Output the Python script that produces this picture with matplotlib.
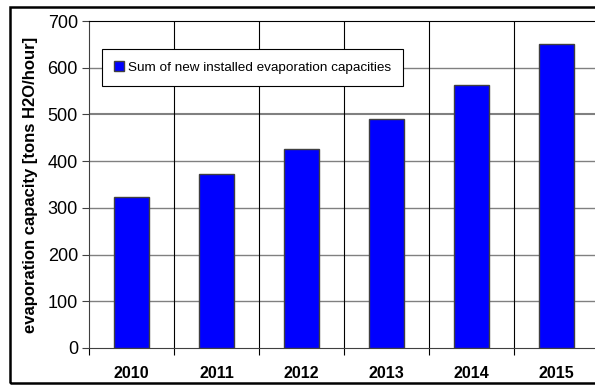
import matplotlib
matplotlib.use("Agg")
import matplotlib.pyplot as plt
from matplotlib.patches import Rectangle

years = ["2010", "2011", "2012", "2013", "2014", "2015"]
values = [323, 372, 426, 491, 563, 651]
legend_label = "Sum of new installed evaporation capacities"
ylabel = "evaporation capacity [tons H2O/hour]"
yticks = [0, 100, 200, 300, 400, 500, 600, 700]

plt.rcParams['font.family'] = ['Liberation Sans', 'DejaVu Sans']

W, H = 595, 385
fig = plt.figure(figsize=(W/100, H/100), dpi=100)
L, R, T, B = 89, 599, 21, 348
ax = fig.add_axes([L/W, 1 - B/H, (R-L)/W, (B-T)/H])

x = list(range(len(years)))
ax.bar(x, values, width=0.41, color="#0000FF", edgecolor="#404040", linewidth=1.0,
       label=legend_label, zorder=3)

ax.set_xlim(-0.5, len(years) - 0.5)
ax.set_ylim(0, 700)
ax.set_yticks(yticks)
ax.set_yticklabels([str(v) for v in yticks], fontsize=13)
ax.set_xticks(x)
ax.set_xticklabels(years, fontsize=11.5, fontweight="bold")
ax.tick_params(axis="x", length=0, pad=13)
ax.set_xticks([i - 0.5 for i in range(len(years) + 1)], minor=True)
ax.tick_params(axis="x", which="minor", length=5, color="black", width=0.8)
ax.tick_params(axis="y", length=5, color="#404040", width=0.8, pad=3)

for v in yticks[1:-1]:
    ax.axhline(v, color="#808080", linewidth=1.0 if v != 500 else 1.5, zorder=1)
for i in range(1, len(years)):
    ax.axvline(i - 0.5, color="black", linewidth=0.8, zorder=1)

ax.spines["right"].set_visible(False)
ax.spines["top"].set_color("black")
ax.spines["top"].set_linewidth(0.8)
ax.spines["left"].set_color("#404040")
ax.spines["left"].set_linewidth(0.8)
ax.spines["bottom"].set_color("#404040")
ax.spines["bottom"].set_linewidth(0.8)

ax.set_ylabel(ylabel, fontsize=12, fontweight="bold", labelpad=7)

leg = ax.legend(loc="upper left", bbox_to_anchor=((102-L)/(R-L), 1 - (49-T)/(B-T)),
                frameon=True, fancybox=False, shadow=False, fontsize=9.7,
                handlelength=0.7, handleheight=0.7, handletextpad=0.3,
                borderpad=0.9, borderaxespad=0)
leg.get_frame().set_edgecolor("black")
leg.get_frame().set_linewidth(0.8)
leg.get_frame().set_facecolor("white")
leg.get_frame().set_alpha(1)
leg.set_zorder(5)

fig.patches.append(Rectangle((9.5/W, 1 - 383/H), (W + 10)/W, (383-7)/H,
                             transform=fig.transFigure, fill=False,
                             edgecolor="black", linewidth=1.8, clip_on=False))

fig.savefig("out.png", dpi=100)
